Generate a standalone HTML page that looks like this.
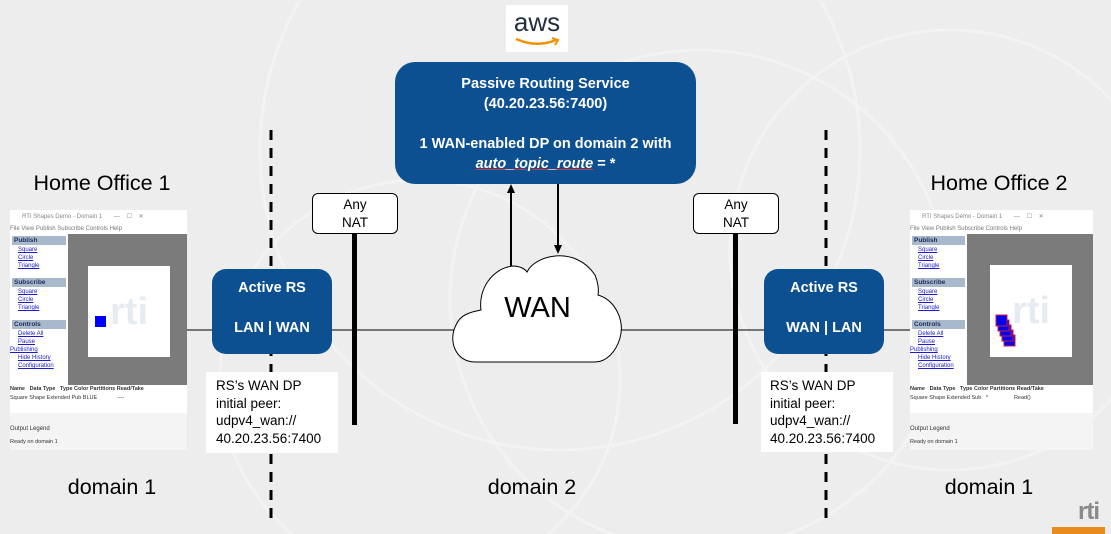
<!DOCTYPE html>
<html><head><meta charset="utf-8"><style>
html,body{margin:0;width:1111px;height:534px;overflow:hidden;}
body{position:relative;background:#ededed;font-family:"Liberation Sans",sans-serif;}
.a{position:absolute}
.win{position:absolute;width:177px;height:240px;background:#f4f4f4;font-size:6px;color:#333;overflow:hidden}
.win .lk{color:#1a1ad0;text-decoration:underline;line-height:8px}
.win .hd{background:#a9b9cc;color:#1a2a5a;font-weight:bold;margin:2px 2px 1px 2px;padding:0 2px;line-height:9px;font-size:6.5px}
</style></head><body>
<svg class="a" style="left:0;top:0" width="1111" height="534">
<g fill="none" stroke="#f3f3f3" stroke-width="3">
<circle cx="560" cy="150" r="300"/><circle cx="700" cy="300" r="250"/><circle cx="950" cy="250" r="220"/><circle cx="420" cy="380" r="200"/>
</g>
<line x1="271" y1="130" x2="271" y2="525" stroke="#000" stroke-width="3" stroke-dasharray="10,8"/>
<line x1="826" y1="130" x2="826" y2="525" stroke="#000" stroke-width="3" stroke-dasharray="10,8"/>
<line x1="185" y1="330" x2="912" y2="330" stroke="#000" stroke-width="1"/>
<line x1="354.5" y1="234" x2="354.5" y2="425" stroke="#000" stroke-width="5"/>
<line x1="735.5" y1="234" x2="735.5" y2="424" stroke="#000" stroke-width="5"/>
<line x1="511" y1="266" x2="511" y2="192" stroke="#000" stroke-width="2"/>
<polygon points="511,184 507,193 515,193" fill="#000"/>
<line x1="558" y1="184" x2="558" y2="246" stroke="#000" stroke-width="2"/>
<polygon points="558,254 554,245 562,245" fill="#000"/>
<path d="M475,362 C455,362 448,340 456,325 C460,315 470,312 481,310 C478,290 492,268 513,266 C520,266 525,269 527,272 C535,255 575,245 595,275 C598,282 599,290 598,295 C615,300 625,320 620,338 C616,352 606,362 595,362 Z" fill="#fff" stroke="#000" stroke-width="1"/>
</svg>
<div class="a" style="left:454px;top:292px;width:167px;text-align:center;font-size:29px">WAN</div>
<div class="a" style="left:506px;top:5px;width:62px;height:47px;background:#fff;text-align:center">
<div style="font-size:26px;color:#232f3e;line-height:26px;margin-top:4px">aws</div>
<svg width="50" height="12"><path d="M4,3 Q25,12 44,4" fill="none" stroke="#f29100" stroke-width="2.5"/><path d="M40,2 L46,4 L43,9" fill="none" stroke="#f29100" stroke-width="2"/></svg>
</div>
<div class="a" style="left:395px;top:62px;width:301px;height:122px;background:#0d5092;border-radius:20px;color:#fff;font-weight:bold;font-size:14.5px;text-align:center;line-height:20px;box-sizing:border-box;padding-top:12px">Passive Routing Service<br>(40.20.23.56:7400)<br><br>1 WAN-enabled DP on domain 2 with<br><i><u style="text-decoration-color:#d33">auto_topic_route</u></i> = *</div>
<div class="a" style="left:212px;top:269px;width:120px;height:85px;background:#0d5092;border-radius:14px;color:#fff;font-weight:bold;font-size:14.5px;text-align:center;line-height:20px;box-sizing:border-box;padding-top:9px">Active RS<br><br>LAN | WAN</div>
<div class="a" style="left:764px;top:269px;width:120px;height:85px;background:#0d5092;border-radius:14px;color:#fff;font-weight:bold;font-size:14.5px;text-align:center;line-height:20px;box-sizing:border-box;padding-top:9px">Active RS<br><br>WAN | LAN</div>
<div class="a" style="left:312px;top:193px;width:86px;height:41px;background:#fff;border:1px solid #000;border-radius:6px;box-sizing:border-box;text-align:center;font-size:13.5px;line-height:18px;padding-top:2px">Any<br>NAT</div>
<div class="a" style="left:693px;top:193px;width:86px;height:41px;background:#fff;border:1px solid #000;border-radius:6px;box-sizing:border-box;text-align:center;font-size:13.5px;line-height:18px;padding-top:2px">Any<br>NAT</div>
<div class="a" style="left:206px;top:372px;width:132px;height:81px;background:#fff;font-size:13.5px;line-height:17.5px;box-sizing:border-box;padding:5px 0 0 10px">RS’s WAN DP<br>initial peer:<br>udpv4_wan://<br>40.20.23.56:7400</div>
<div class="a" style="left:761px;top:372px;width:132px;height:80px;background:#fff;font-size:13.5px;line-height:17.5px;box-sizing:border-box;padding:5px 0 0 9px">RS’s WAN DP<br>initial peer:<br>udpv4_wan://<br>40.20.23.56:7400</div>
<div class="a" style="left:0;top:171px;width:204px;text-align:center;font-size:21.5px">Home Office 1</div>
<div class="a" style="left:897px;top:171px;width:204px;text-align:center;font-size:21.5px">Home Office 2</div>
<div class="a" style="left:10px;top:475px;width:204px;text-align:center;font-size:21.5px">domain 1</div>
<div class="a" style="left:430px;top:475px;width:204px;text-align:center;font-size:21.5px">domain 2</div>
<div class="a" style="left:887px;top:475px;width:204px;text-align:center;font-size:21.5px">domain 1</div>

<div class="win" style="left:10px;top:210px">
<div style="height:14px;background:#fff;line-height:14px;padding-left:12px;color:#888">RTI Shapes Demo - Domain 1 &nbsp;&nbsp;&nbsp;&nbsp;&nbsp; —&nbsp;&nbsp;&nbsp; ☐ &nbsp;&nbsp; ✕</div>
<div style="height:10px;background:#fff;line-height:10px;color:#777">File View Publish Subscribe Controls Help</div>
<div class="a" style="left:0;top:24px;width:58px;height:151px;background:#fff">
<div class="hd">Publish</div><div class="lk" style="padding-left:8px">Square<br>Circle<br>Triangle</div>
<div class="hd" style="margin-top:8px">Subscribe</div><div class="lk" style="padding-left:8px">Square<br>Circle<br>Triangle</div>
<div class="hd" style="margin-top:8px">Controls</div><div class="lk" style="padding-left:8px">Delete All<br>Pause<br></div><div class="lk">Publishing</div><div class="lk" style="padding-left:8px">Hide History<br>Configuration</div>
</div>
<div class="a" style="left:58px;top:24px;width:119px;height:151px;background:#7b7b7b"></div>
<div class="a" style="left:78px;top:56px;width:82px;height:91px;background:#fff"><div style="position:absolute;left:22px;top:25px;font-size:38px;font-weight:bold;color:#e6ebf2">rti</div><div style="position:absolute;left:7px;top:50px;width:11px;height:11px;background:#0000ff"></div></div>
<div class="a" style="left:0;top:175px;width:177px;height:28px;background:#fff;font-size:5.5px;line-height:9px"><b>Name &nbsp; Data Type &nbsp; Type Color Partitions Read/Take</b><br>Square Shape Extended Pub BLUE &nbsp;&nbsp;&nbsp;&nbsp;&nbsp;&nbsp;&nbsp;&nbsp;&nbsp;&nbsp;&nbsp; ----</div>
<div class="a" style="left:0;top:216px;font-size:6px">Output Legend</div>
<div class="a" style="left:0;top:229px;font-size:5.5px">Ready on domain 1</div>
</div>

<div class="win" style="left:910px;top:210px;width:183px">
<div style="height:14px;background:#fff;line-height:14px;padding-left:12px;color:#888">RTI Shapes Demo - Domain 1 &nbsp;&nbsp;&nbsp;&nbsp;&nbsp; —&nbsp;&nbsp;&nbsp; ☐ &nbsp;&nbsp; ✕</div>
<div style="height:10px;background:#fff;line-height:10px;color:#777">File View Publish Subscribe Controls Help</div>
<div class="a" style="left:0;top:24px;width:57px;height:151px;background:#fff">
<div class="hd">Publish</div><div class="lk" style="padding-left:8px">Square<br>Circle<br>Triangle</div>
<div class="hd" style="margin-top:8px">Subscribe</div><div class="lk" style="padding-left:8px">Square<br>Circle<br>Triangle</div>
<div class="hd" style="margin-top:8px">Controls</div><div class="lk" style="padding-left:8px">Delete All<br>Pause<br></div><div class="lk">Publishing</div><div class="lk" style="padding-left:8px">Hide History<br>Configuration</div>
</div>
<div class="a" style="left:57px;top:24px;width:126px;height:151px;background:#7b7b7b"></div>
<div class="a" style="left:80px;top:55px;width:82px;height:92px;background:#fff"><div style="position:absolute;left:22px;top:25px;font-size:38px;font-weight:bold;color:#e6ebf2">rti</div>
<svg style="position:absolute;left:0;top:0" width="82" height="92"><g fill="#0000ee" stroke="#d02040" stroke-width="1"><rect x="14" y="70" width="11" height="11"/><rect x="12" y="65" width="11" height="11"/><rect x="10" y="60" width="11" height="11"/><rect x="8" y="55" width="11" height="11"/><rect x="6" y="50" width="11" height="11"/></g></svg></div>
<div class="a" style="left:0;top:175px;width:183px;height:28px;background:#fff;font-size:5.5px;line-height:9px"><b>Name &nbsp; Data Type &nbsp; Type Color Partitions Read/Take</b><br>Square Shape Extended Sub &nbsp; * &nbsp;&nbsp;&nbsp;&nbsp;&nbsp;&nbsp;&nbsp;&nbsp;&nbsp;&nbsp;&nbsp;&nbsp;&nbsp;&nbsp;&nbsp; Read()</div>
<div class="a" style="left:0;top:216px;font-size:6px">Output Legend</div>
<div class="a" style="left:0;top:229px;font-size:5.5px">Ready on domain 1</div>
</div>

<div class="a" style="left:1078px;top:498px;font-size:24px;line-height:28px;font-weight:bold;color:#8a8a8a;letter-spacing:-1px">rti</div>
<div class="a" style="left:1052px;top:527px;width:53px;height:7px;background:#e98a1c"></div>
</body></html>
